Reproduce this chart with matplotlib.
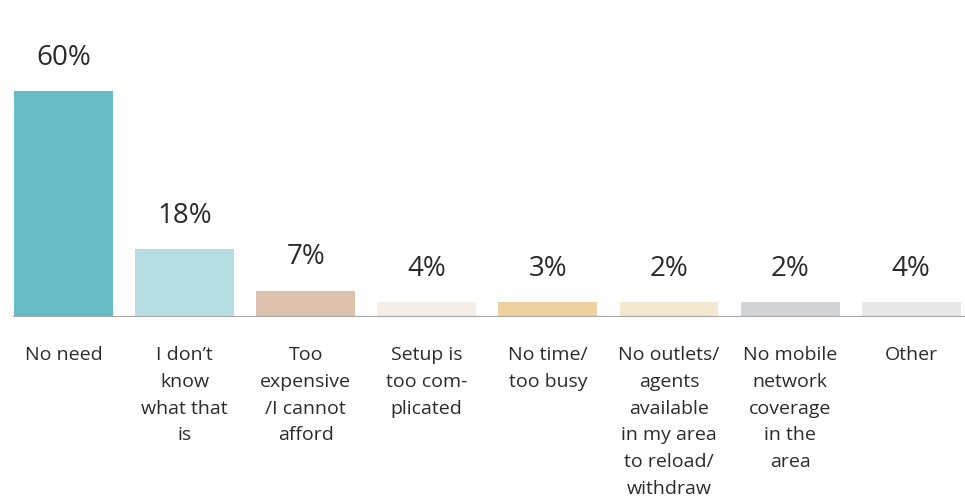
#!/usr/bin/env python3

""" Reasons for not using mobile money: single bar chart. """

import numpy as np
import matplotlib
matplotlib.use('Agg')
import matplotlib.pyplot as plt

# data:
categories = ['No need', 'I don\u2019t\nknow\nwhat that\nis', 'Too\nexpensive\n/I cannot\nafford',
              'Setup is\ntoo com-\nplicated', 'No time/\ntoo busy',
              'No outlets/\nagents\navailable\nin my area\nto reload/\nwithdraw',
              'No mobile\nnetwork\ncoverage\nin the\narea', 'Other']
values = [60, 18, 7, 4, 3, 2, 2, 4]
colors = ['#67bdc4', '#b5dde2', '#dcc2af', '#f5ede7', '#edd29e', '#f4e7d0', '#d2d3d5', '#e7e7e7']

min_bar = 4  # small shares are drawn with a minimum height, as in the original


def main():
    plt.rcParams['font.family'] = ['Open Sans', 'DejaVu Sans']
    fig = plt.figure(figsize=(9.65, 4.97), dpi=100)
    ax = fig.add_axes([0, 180 / 497, 1, 226 / 497])

    x = np.arange(len(values))
    heights = np.maximum(values, min_bar)
    ax.bar(x, heights, width=0.8175, color=colors, zorder=2)

    ax.set_xlim(-63.5 / 121.1, (965 - 63.5) / 121.1)
    ax.set_ylim(0, 60)
    ax.axhline(0, xmin=14 / 965, xmax=1, color='#a8a8a8', lw=1.6, zorder=3)

    # value labels:
    for xi, h, v in zip(x, heights, values):
        ax.annotate('{0}%'.format(v), (xi, h), xytext=(0, 24), textcoords='offset points',
                    ha='center', va='center', fontsize=20, color='#2b2b2b',
                    annotation_clip=False)

    # category labels:
    ax.set_xticks(x)
    ax.set_xticklabels(categories, fontsize=14, color='#2b2b2b', linespacing=1.62, va='top')
    ax.tick_params(axis='x', length=0, pad=21)
    ax.set_yticks([])
    for s in ax.spines.values():
        s.set_visible(False)

    fig.savefig('out.png', dpi=100)


if __name__ == "__main__":
    main()
